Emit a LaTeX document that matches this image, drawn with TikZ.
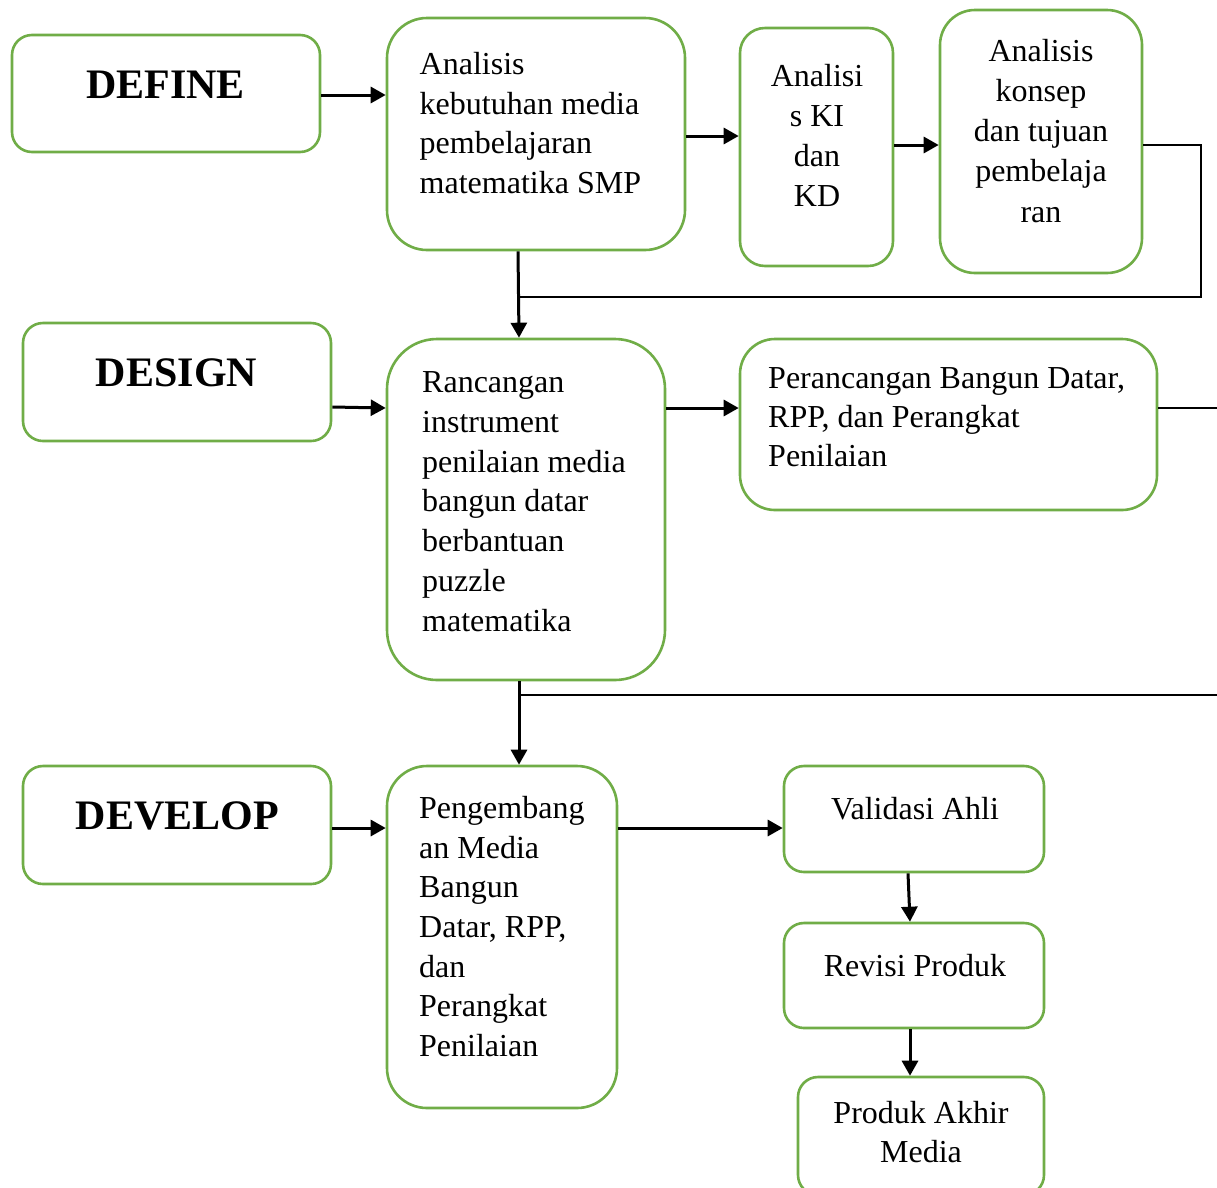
\documentclass[tikz,border=0pt]{standalone}
\usepackage{fontspec}
\setmainfont{Liberation Serif}
\usetikzlibrary{arrows.meta}
\definecolor{boxgreen}{HTML}{70AD47}
\tikzset{
 box/.style={draw=boxgreen, line width=2.6pt, rounded corners=#1, inner sep=0pt, fill=white},
 txt/.style={inner sep=0pt, font=\fontsize{32}{39.7}\selectfont},
 ltxt/.style={txt, align=left, anchor=base west},
 ctxt/.style={txt, align=center, anchor=base},
 htxt/.style={inner sep=0pt, font=\fontsize{42}{50}\selectfont\bfseries, anchor=base},
 arr/.style={line width=3pt, -{Triangle[length=15pt,width=16pt]}},
 thinline/.style={line width=1.3pt},
}
\begin{document}
\begin{tikzpicture}[x=1pt,y=-1pt]
\useasboundingbox (0,0) rectangle (1217,1187);
\clip (0,0) rectangle (1217,1187);
\fill[white] (0,0) rectangle (1217,1187);
% boxes
\node[box=20pt, minimum width=308pt, minimum height=117pt] (define) at (166,93.5) {};
\node[box=40pt, minimum width=298pt, minimum height=232pt] (kebutuhan) at (536,134) {};
\node[box=25pt, minimum width=153pt, minimum height=238pt] (kikd) at (816.5,147) {};
\node[box=35pt, minimum width=202pt, minimum height=263pt] (konsep) at (1041,141.5) {};
\node[box=20pt, minimum width=308pt, minimum height=118pt] (design) at (177,382) {};
\node[box=50pt, minimum width=278pt, minimum height=341pt] (rancangan) at (526,509.5) {};
\node[box=35pt, minimum width=417pt, minimum height=171pt] (perancangan) at (948.5,424.5) {};
\node[box=20pt, minimum width=308pt, minimum height=118pt] (develop) at (177,825) {};
\node[box=40pt, minimum width=230pt, minimum height=342pt] (pengembang) at (502,937) {};
\node[box=20pt, minimum width=260pt, minimum height=106pt] (validasi) at (914,819) {};
\node[box=20pt, minimum width=260pt, minimum height=105pt] (revisi) at (914,975.5) {};
\node[box=20pt, minimum width=246pt, minimum height=118pt] (produk) at (921,1136) {};
% texts (base anchor = baseline of the last line)
\node[htxt] (tdefine) at (165.5,98.5) {DEFINE};
\node[htxt] (tdesign) at (176.5,386.5) {DESIGN};
\node[htxt] (tdevelop) at (177.5,829.5) {DEVELOP};
\node[ltxt] (tkeb) at (419.5,193.5) {Analisis\\kebutuhan media\\pembelajaran\\matematika SMP};
\node[ctxt] (tkikd) at (817,206) {Analisi\\s KI\\dan\\KD};
\node[ctxt, font=\fontsize{32}{40.2}\selectfont] (tkonsep) at (1041,222) {Analisis\\konsep\\dan tujuan\\pembelaja\\ran};
\node[ltxt] (tranc) at (422,631) {Rancangan\\instrument\\penilaian media\\bangun datar\\berbantuan\\puzzle\\matematika};
\node[ltxt, font=\fontsize{32}{39}\selectfont] (tperanc) at (768,466) {Perancangan Bangun Datar,\\RPP, dan Perangkat\\Penilaian};
\node[ltxt] (tpeng) at (419,1056.5) {Pengembang\\an Media\\Bangun\\Datar, RPP,\\dan\\Perangkat\\Penilaian};
\node[ctxt] (tval) at (915,819) {Validasi Ahli};
\node[ctxt] (trev) at (915,976) {Revisi Produk};
\node[ctxt, font=\fontsize{32}{39}\selectfont] (tprod) at (921,1162) {Produk Akhir\\Media};
% connectors
\coordinate (k1) at (519,297);
\coordinate (k2) at (1201,297);
\coordinate (r1) at (1217,408);
\coordinate (d1) at (519,695);
\coordinate (d2) at (1217,695);
\draw[arr] (define.east) ++(0,1.5) -- (kebutuhan.west |- 0,95);
\draw[arr] (kebutuhan.east) ++(0,2) -- (kikd.west |- 0,136);
\draw[arr] (kikd.east) ++(0,-2) -- (konsep.west |- 0,145);
\draw[thinline] (konsep.east) ++(0,3.5) -| (k2) -- (k1);
\draw[arr] ([xshift=-18pt]kebutuhan.south) -- ([xshift=-7pt]rancangan.north);
\draw[arr] (design.east) ++(0,25) -- (rancangan.west |- 0,408);
\draw[arr] (rancangan.east |- 0,408) -- (perancangan.west |- 0,408);
\draw[thinline] (perancangan.east |- 0,408) -- (r1);
\draw[arr] ([xshift=-7pt]rancangan.south) -- ([xshift=17pt]pengembang.north);
\draw[thinline] (d1) -- (d2);
\draw[arr] (develop.east) ++(0,3) -- (pengembang.west |- 0,828);
\draw[arr] (pengembang.east |- 0,828) -- (validasi.west |- 0,828);
\draw[arr] ([xshift=-6pt]validasi.south) -- ([xshift=-4pt]revisi.north);
\draw[arr] ([xshift=-4pt]revisi.south) -- ([xshift=-11pt]produk.north);
\end{tikzpicture}
\end{document}
